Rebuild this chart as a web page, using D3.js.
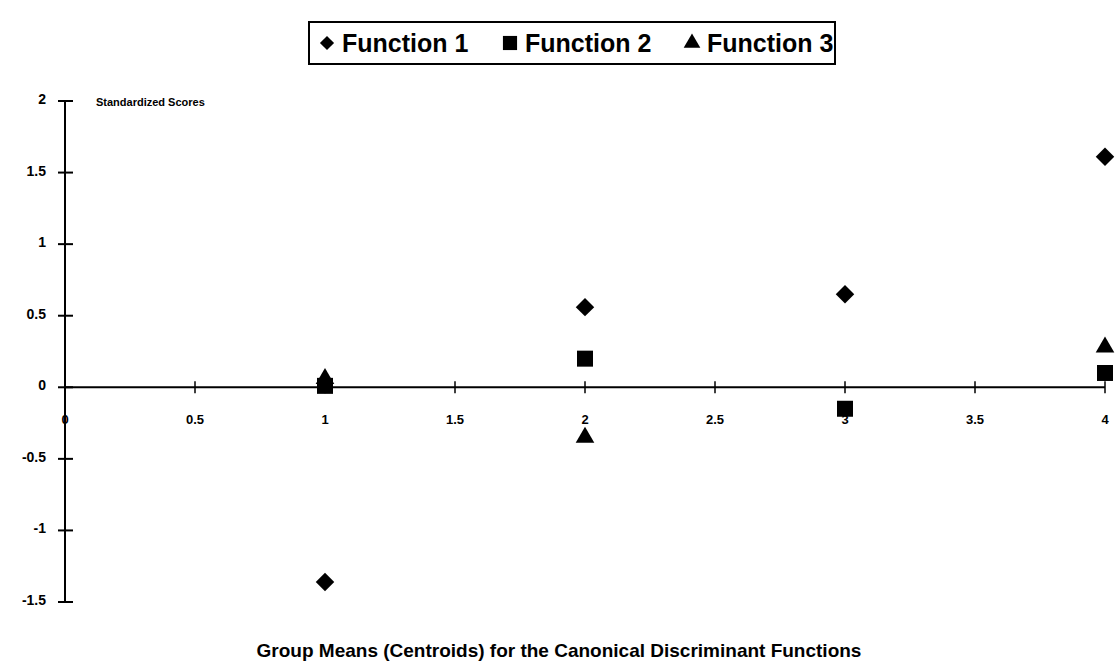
<!DOCTYPE html>
<html>
<head>
<meta charset="utf-8">
<script src="https://cdn.jsdelivr.net/npm/d3@7"></script>
<style>
  body { margin: 0; background: #fff; }
  text { font-family: "Liberation Sans", Arial, sans-serif; font-weight: bold; fill: #000; }
</style>
</head>
<body>
<div id="chart"></div>
<script>
const groups = [1, 2, 3, 4];
const function1 = [-1.36, 0.56, 0.65, 1.61];
const function2 = [0.01, 0.2, -0.15, 0.1];
const function3 = [0.06, -0.35, null, 0.28];
const xTicks = [0, 0.5, 1, 1.5, 2, 2.5, 3, 3.5, 4];
const yTicks = [-1.5, -1, -0.5, 0, 0.5, 1, 1.5, 2];
const seriesNames = ["Function 1", "Function 2", "Function 3"];

const width = 1118;
const height = 668;

const x = d3.scaleLinear().domain([0, 4]).range([65, 1105]);
const y = d3.scaleLinear().domain([-1.5, 2]).range([602, 101]);

const svg = d3.select("#chart")
    .append("svg")
    .attr("width", width)
    .attr("height", height);

// axes drawn by hand so ticks cross the line like the old spreadsheet style
const yAxis = svg.append("g");
yAxis.append("line")
    .attr("x1", x(0)).attr("x2", x(0))
    .attr("y1", y(2)).attr("y2", y(-1.5))
    .attr("stroke", "#000").attr("stroke-width", 2);
yAxis.selectAll(".tick")
    .data(yTicks)
    .join("line")
    .attr("x1", x(0) - 7).attr("x2", x(0) + 8)
    .attr("y1", d => y(d)).attr("y2", d => y(d))
    .attr("stroke", "#000").attr("stroke-width", 2);
yAxis.selectAll("text")
    .data(yTicks)
    .join("text")
    .attr("x", 46)
    .attr("y", d => y(d) + 3)
    .attr("text-anchor", "end")
    .attr("font-size", 14)
    .text(d => d);

const xAxis = svg.append("g");
xAxis.append("line")
    .attr("x1", x(0)).attr("x2", x(4))
    .attr("y1", y(0)).attr("y2", y(0))
    .attr("stroke", "#000").attr("stroke-width", 2);
xAxis.selectAll(".tick")
    .data(xTicks.slice(1))
    .join("line")
    .attr("x1", d => x(d)).attr("x2", d => x(d))
    .attr("y1", y(0) - 6).attr("y2", y(0) + 6)
    .attr("stroke", "#000").attr("stroke-width", 1.5);
xAxis.selectAll("text")
    .data(xTicks)
    .join("text")
    .attr("x", d => x(d))
    .attr("y", y(0) + 37)
    .attr("text-anchor", "middle")
    .attr("font-size", 13)
    .text(d => d);

svg.append("text")
    .attr("x", 96)
    .attr("y", 106)
    .attr("font-size", 11)
    .text("Standardized Scores");

// markers: diamond is a square turned 45 degrees
const symbols = [d3.symbolSquare, d3.symbolSquare, d3.symbolTriangle];
const rotate = [45, 0, 0];
const sizes = [170, 256, 150];
const allSeries = [function1, function2, function3];

allSeries.forEach((vals, i) => {
    const pts = groups.map((g, j) => ({g, v: vals[j]})).filter(d => d.v !== null);
    svg.append("g")
        .selectAll("path")
        .data(pts)
        .join("path")
        .attr("transform", d => `translate(${x(d.g)},${y(d.v)}) rotate(${rotate[i]})`)
        .attr("d", d3.symbol(symbols[i], sizes[i]))
        .attr("fill", "#000");
});

// legend
const legend = svg.append("g");
legend.append("rect")
    .attr("x", 309).attr("y", 22)
    .attr("width", 526).attr("height", 42)
    .attr("fill", "none")
    .attr("stroke", "#000").attr("stroke-width", 2);
const legendX = [327, 510, 692];
const legendSizes = [100, 200, 120];
seriesNames.forEach((name, i) => {
    legend.append("path")
        .attr("transform", `translate(${legendX[i]},${43}) rotate(${rotate[i]})`)
        .attr("d", d3.symbol(symbols[i], legendSizes[i]))
        .attr("fill", "#000");
    legend.append("text")
        .attr("x", legendX[i] + 15)
        .attr("y", 52)
        .attr("font-size", 25)
        .text(name);
});

svg.append("text")
    .attr("x", 559)
    .attr("y", 657)
    .attr("text-anchor", "middle")
    .attr("font-size", 19)
    .text("Group Means (Centroids) for the Canonical Discriminant Functions");
</script>
</body>
</html>
